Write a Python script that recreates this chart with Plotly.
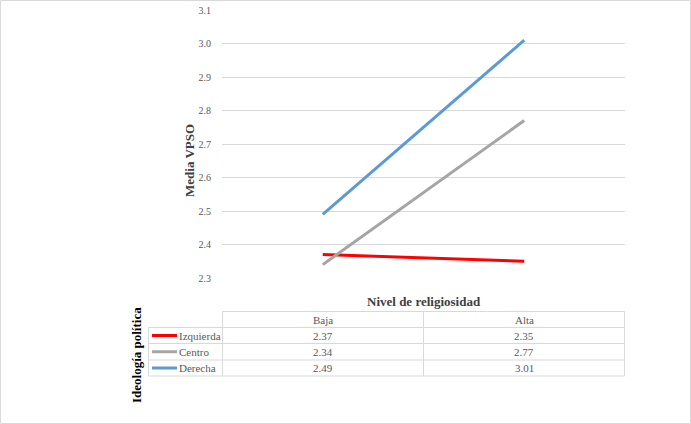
import plotly.graph_objects as go

categories = ["Baja", "Alta"]
series_names = ["Izquierda", "Centro", "Derecha"]
izquierda = [2.37, 2.35]
centro = [2.34, 2.77]
derecha = [2.49, 3.01]
series_values = [izquierda, centro, derecha]
colors = ["#FF0000", "#A5A5A5", "#5B9BD5"]
y_ticks = [2.3, 2.4, 2.5, 2.6, 2.7, 2.8, 2.9, 3.0, 3.1]

W, H = 691, 424
SERIF = "Liberation Serif"
GRID = "#D9D9D9"
TXT = "#595959"


def px(x):
    return x / W


def py(y):
    return 1 - y / H


fig = go.Figure()
for name, vals, c in zip(series_names, series_values, colors):
    fig.add_trace(go.Scatter(x=categories, y=vals, mode="lines", name=name,
                             line=dict(color=c, width=3), showlegend=False))

plot_l, plot_r, plot_t, plot_b = 222, 625, 10, 278
fig.update_layout(
    width=W, height=H, margin=dict(l=0, r=0, t=0, b=0, pad=0),
    paper_bgcolor="white", plot_bgcolor="white",
    font=dict(family=SERIF),
    xaxis=dict(domain=[px(plot_l), px(plot_r)], range=[-0.5, 1.5],
               showticklabels=False, showgrid=False, zeroline=False,
               showline=False, fixedrange=True, automargin=False),
    yaxis=dict(domain=[py(plot_b), py(plot_t)], range=[2.3, 3.1],
               tickvals=y_ticks, ticktext=[f"{v:.1f}" for v in y_ticks],
               showgrid=True, gridcolor=GRID, gridwidth=1, zeroline=False,
               showline=False, tickfont=dict(family=SERIF, size=10, color=TXT),
               ticklabelstandoff=10, fixedrange=True, automargin=False),
)

shapes = []
# outer border
shapes.append(dict(type="rect", xref="paper", yref="paper",
                   x0=px(0.5), x1=px(690.5), y0=py(423.5), y1=py(0.5),
                   line=dict(color=GRID, width=1)))

# data table
col_x = [148.5, 222.5, 423.5, 624.5]
row_y = [311.5, 327.5, 343.5, 360, 376]
line_style = dict(color=GRID, width=1)
shapes.append(dict(type="line", xref="paper", yref="paper", x0=px(col_x[1]), x1=px(col_x[3]),
                   y0=py(row_y[0]), y1=py(row_y[0]), line=line_style))
for yy in row_y[1:]:
    shapes.append(dict(type="line", xref="paper", yref="paper", x0=px(col_x[0]), x1=px(col_x[3]),
                       y0=py(yy), y1=py(yy), line=line_style))
shapes.append(dict(type="line", xref="paper", yref="paper", x0=px(col_x[0]), x1=px(col_x[0]),
                   y0=py(row_y[1]), y1=py(row_y[4]), line=line_style))
for xx in col_x[1:]:
    shapes.append(dict(type="line", xref="paper", yref="paper", x0=px(xx), x1=px(xx),
                       y0=py(row_y[0]), y1=py(row_y[4]), line=line_style))


def ann(x, y, text, size=11, color=TXT, xanchor="center", angle=0):
    return dict(x=px(x), y=py(y), xref="paper", yref="paper", text=text, showarrow=False,
                xanchor=xanchor, yanchor="middle", textangle=angle,
                font=dict(family=SERIF, size=size, color=color))


annotations = []
col_centers = [(col_x[1] + col_x[2]) / 2, (col_x[2] + col_x[3]) / 2]
for cx, cat in zip(col_centers, categories):
    annotations.append(ann(cx, (row_y[0] + row_y[1]) / 2, cat))
for i, (name, vals, c) in enumerate(zip(series_names, series_values, colors)):
    yc = (row_y[i + 1] + row_y[i + 2]) / 2
    shapes.append(dict(type="line", xref="paper", yref="paper", x0=px(152), x1=px(177),
                       y0=py(yc), y1=py(yc), line=dict(color=c, width=3)))
    annotations.append(ann(176.5, yc, name, xanchor="left"))
    for cx, v in zip(col_centers, vals):
        annotations.append(ann(cx, yc, f"{v:.2f}"))

annotations.append(ann(423.5, 301, "<b>Nivel de religiosidad</b>", size=13, color="#404040"))
annotations.append(ann(189, 161, "<b>Media VPSO</b>", size=13, color="#404040", angle=-90))
annotations.append(ann(136, 355, "<b>Ideología política</b>", size=13, color="black", angle=-90))

fig.update_layout(shapes=shapes, annotations=annotations)
fig.write_html(
    "out.html",
    config={"displayModeBar": False},
    post_script="document.body.style.margin='0';document.body.style.padding='0';"
                "document.documentElement.style.overflow='hidden';",
)
